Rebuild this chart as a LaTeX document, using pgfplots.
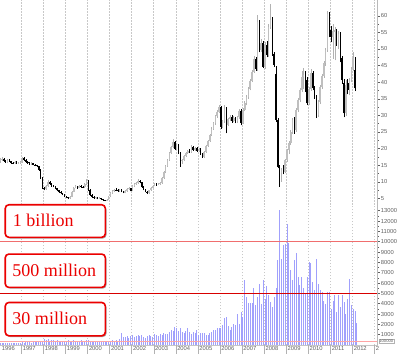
\documentclass[border=0pt]{standalone}
\usepackage{pgfplots}
\pgfplotsset{compat=1.18}
\usepackage{pgfplotstable}
\usepackage{fontspec}
\setmainfont{Liberation Serif}
\setsansfont{Liberation Sans}
\usetikzlibrary{shadows}
\definecolor{volblue}{RGB}{160,160,252}
\definecolor{gridgray}{RGB}{200,200,200}
\definecolor{labgray}{RGB}{95,95,95}
\definecolor{boxred}{RGB}{235,0,0}
\definecolor{lineten}{RGB}{240,110,110}
\definecolor{linefive}{RGB}{215,0,0}
\definecolor{linebase}{RGB}{255,165,165}

\pgfplotstableread{
m o h l c
0 16.2 17.3 15.8 16.8
1 16.8 17.5 16.3 17.0
2 17.0 17.2 16.0 16.4
3 16.4 16.7 15.6 16.0
4 16.0 16.9 15.8 16.6
5 16.6 16.8 15.9 16.2
6 16.2 16.4 15.4 15.8
7 15.8 16.1 15.3 15.6
8 15.6 16.3 15.4 16.0
9 16.0 16.2 15.3 15.6
10 15.6 16.1 15.4 15.8
11 15.8 16.3 15.5 15.9
12 15.9 17.6 15.7 17.2
13 17.2 17.4 16.3 16.6
14 16.6 16.8 15.6 15.9
15 15.9 16.2 15.3 15.6
16 15.6 15.9 15.0 15.3
17 15.3 15.9 15.1 15.6
18 15.6 15.8 14.9 15.2
19 15.2 15.5 14.7 15.0
20 15.0 15.2 14.3 14.6
21 14.6 14.8 13.3 13.6
22 13.6 13.8 10.8 11.2
23 11.2 11.4 7.8 8.2
24 8.2 8.5 7.4 7.8
25 7.8 8.9 7.6 8.6
26 8.6 10.6 8.4 10.0
27 10.0 10.3 9.1 9.4
28 9.4 9.6 8.5 8.8
29 8.8 9.1 8.3 8.6
30 8.6 8.8 7.7 8.0
31 8.0 8.2 7.1 7.4
32 7.4 7.6 6.6 6.9
33 6.9 7.1 6.2 6.5
34 6.5 6.7 5.9 6.2
35 6.2 6.3 5.3 5.6
36 5.6 5.8 5.0 5.3
37 5.3 5.5 4.8 5.0
38 5.0 5.6 4.9 5.4
39 5.4 7.3 5.3 7.0
40 7.0 8.5 6.8 8.2
41 8.2 8.9 8.0 8.6
42 8.6 8.8 7.9 8.2
43 8.2 9.1 8.0 8.8
44 8.8 9.0 8.2 8.5
45 8.5 8.8 8.1 8.4
46 8.4 9.5 8.2 9.2
47 9.2 10.9 9.0 10.3
48 10.3 10.5 7.3 7.6
49 7.6 7.8 5.8 6.0
50 6.0 6.2 5.2 5.4
51 5.4 5.6 4.9 5.1
52 5.1 5.5 4.9 5.3
53 5.3 5.4 4.7 4.9
54 4.9 5.3 4.7 5.1
55 5.1 5.2 4.6 4.8
56 4.8 4.9 4.3 4.5
57 4.5 4.6 4.1 4.3
58 4.3 4.8 4.2 4.6
59 4.6 5.8 4.5 5.6
60 5.6 6.9 5.4 6.6
61 6.6 7.4 6.4 7.1
62 7.1 7.9 6.9 7.6
63 7.6 8.1 7.2 7.5
64 7.5 7.7 6.9 7.2
65 7.2 7.8 7.0 7.5
66 7.5 7.7 6.8 7.1
67 7.1 7.3 6.5 6.7
68 6.7 7.4 6.5 7.2
69 7.2 8.0 7.0 7.8
70 7.8 8.3 7.5 8.0
71 8.0 8.2 7.1 7.3
72 7.3 8.9 7.1 8.6
73 8.6 9.6 8.4 9.3
74 9.3 9.9 9.0 9.6
75 9.6 10.8 9.4 10.3
76 10.3 10.6 9.5 9.8
77 9.8 10.0 8.2 8.4
78 8.4 8.6 7.4 7.6
79 7.6 7.8 6.8 7.0
80 7.0 7.2 6.3 6.6
81 6.6 7.6 6.4 7.4
82 7.4 8.4 7.2 8.2
83 8.2 9.1 8.0 8.8
84 8.8 9.7 8.6 9.4
85 9.4 9.6 8.8 9.1
86 9.1 9.6 8.9 9.3
87 9.3 9.9 9.0 9.6
88 9.6 11.3 9.4 11.0
89 11.0 13.1 10.8 12.8
90 12.8 14.9 12.6 14.6
91 14.6 16.9 14.4 16.6
92 16.6 18.9 16.3 18.6
93 18.6 20.8 18.3 20.4
94 20.4 22.8 20.1 22.0
95 22.0 22.4 19.5 20.0
96 20.0 21.5 19.6 21.0
97 21.0 21.3 18.3 18.6
98 18.6 18.9 14.5 16.2
99 16.2 17.0 15.5 16.6
100 16.6 18.1 16.3 17.8
101 17.8 18.9 17.5 18.6
102 18.6 19.7 18.3 19.4
103 19.4 19.8 18.6 19.0
104 19.0 21.0 18.8 20.4
105 20.4 20.8 19.3 19.6
106 19.6 20.6 19.3 20.2
107 20.2 20.5 19.0 19.4
108 19.4 20.3 19.0 19.8
109 19.8 20.1 18.1 18.4
110 18.4 18.7 17.2 17.6
111 17.6 19.3 17.3 19.0
112 19.0 21.1 18.7 20.8
113 20.8 22.7 20.5 22.4
114 22.4 24.5 22.0 24.2
115 24.2 26.4 23.9 26.0
116 26.0 28.0 25.6 27.6
117 27.6 30.2 27.2 29.8
118 29.8 31.5 29.3 31.0
119 31.0 33.0 30.6 32.4
120 32.4 32.8 26.0 26.6
121 26.6 28.7 26.2 28.2
122 28.2 33.2 27.8 32.0
123 32.0 32.6 24.6 27.2
124 27.2 29.3 26.8 28.8
125 28.8 30.2 28.3 29.6
126 29.6 30.0 27.8 28.4
127 28.4 29.8 27.9 29.2
128 29.2 29.6 27.6 28.2
129 28.2 29.9 27.8 29.4
130 29.4 32.0 29.0 31.4
131 31.4 31.8 27.0 27.8
132 27.8 32.1 27.4 31.6
133 31.6 34.2 31.2 33.6
134 33.6 36.0 33.0 35.4
135 35.4 38.6 35.0 38.0
136 38.0 41.0 37.5 40.4
137 40.4 43.8 40.0 43.2
138 43.2 47.8 42.8 47.0
139 47.0 47.5 43.4 44.0
140 44.0 60.2 43.5 58.2
141 58.2 58.8 49.0 49.7
142 49.7 53.0 49.0 51.7
143 51.7 52.4 44.2 44.6
144 44.6 52.0 44.0 51.2
145 51.2 52.5 47.5 48.2
146 48.2 57.5 47.6 56.7
147 56.7 63.7 56.0 58.7
148 58.7 59.5 48.0 48.7
149 48.4 49.0 44.5 45.2
150 42.6 45.0 28.0 28.6
151 28.6 29.2 14.0 14.5
152 14.5 15.2 8.5 12.5
153 12.5 14.2 10.0 13.5
154 13.5 15.0 12.2 12.8
155 12.8 17.0 12.5 16.5
156 16.5 20.0 16.0 19.5
157 19.5 22.2 18.5 21.6
158 21.6 25.6 21.0 25.0
159 25.0 29.2 24.5 28.6
160 28.6 29.5 24.5 25.6
161 25.6 32.2 25.0 31.6
162 31.6 35.2 31.0 34.6
163 34.6 38.2 34.0 37.6
164 37.6 43.5 37.0 41.6
165 41.6 44.2 38.0 42.1
166 42.1 43.5 37.0 40.6
167 40.6 41.5 33.0 33.6
168 33.6 38.6 33.0 38.0
169 38.0 44.0 37.4 42.7
170 42.7 43.5 37.5 38.1
171 38.1 39.0 35.0 35.6
172 35.6 36.2 29.2 30.1
173 30.1 34.6 29.6 34.0
174 34.0 39.2 33.4 38.6
175 38.6 42.6 38.0 42.0
176 42.0 46.3 41.4 45.7
177 45.7 50.3 45.0 49.7
178 49.7 61.5 49.2 60.6
179 60.6 61.2 53.5 54.7
180 55.7 57.0 52.0 53.7
181 53.7 57.5 47.0 55.5
182 55.2 56.5 46.6 55.8
183 55.0 56.0 51.0 52.7
184 52.7 55.5 50.0 54.4
185 54.2 55.0 46.0 47.2
186 47.2 48.0 39.5 40.6
187 39.7 41.0 29.4 30.6
188 30.6 40.6 29.8 39.2
189 39.7 41.0 36.3 37.6
190 37.6 41.2 36.0 40.6
191 40.6 44.6 40.0 44.0
192 44.0 49.2 43.4 47.2
193 43.7 47.5 37.3 38.1
}\pricedata

\pgfplotstableread{
m v
0 180
1 150
2 200
3 170
4 220
5 160
6 190
7 150
8 210
9 180
10 160
11 200
12 260
13 220
14 300
15 250
16 280
17 240
18 320
19 260
20 300
21 350
22 420
23 380
24 560
25 450
26 600
27 400
28 480
29 520
30 350
31 450
32 380
33 420
34 360
35 400
36 380
37 450
38 350
39 420
40 500
41 380
42 360
43 400
44 450
45 380
46 420
47 500
48 450
49 350
50 300
51 380
52 280
53 320
54 260
55 300
56 350
57 280
58 320
59 400
60 350
61 450
62 380
63 500
64 420
65 600
66 1130
67 750
68 800
69 900
70 700
71 850
72 950
73 800
74 900
75 1000
76 850
77 950
78 800
79 700
80 900
81 1000
82 850
83 800
84 1100
85 950
86 900
87 1100
88 1000
89 1200
90 1050
91 1100
92 1300
93 1500
94 1400
95 1700
96 1600
97 1400
98 1650
99 1300
100 1200
101 1400
102 1600
103 1250
104 1100
105 1300
106 1200
107 1450
108 1000
109 1200
110 1150
111 1200
112 1000
113 950
114 1200
115 1300
116 1450
117 1500
118 1600
119 1600
120 1600
121 1900
122 2600
123 2700
124 1800
125 1500
126 1700
127 2000
128 1900
129 3000
130 2000
131 3200
132 2700
133 6300
134 4600
135 4100
136 4100
137 4100
138 5500
139 3900
140 4600
141 5900
142 4000
143 6300
144 4500
145 5700
146 4800
147 4200
148 3700
149 4600
150 5500
151 8200
152 13100
153 8300
154 9700
155 9800
156 11700
157 9900
158 7300
159 6300
160 8200
161 8900
162 6600
163 5800
164 6600
165 5500
166 5000
167 6600
168 8000
169 7900
170 6100
171 5300
172 8300
173 5900
174 5300
175 5100
176 4300
177 4000
178 5100
179 5100
180 3500
181 4300
182 4800
183 3200
184 4800
185 3700
186 4800
187 4200
188 3000
189 4500
190 6400
191 3900
192 3500
193 3300
194 2100
}\voldata

\pgfplotstableread{
x y
-0.08 10000
205.3 10000
}\tenline
\pgfplotstableread{
x y
-0.08 5000
205.3 5000
}\fiveline
\pgfplotstableread{
x y
-0.08 340
205.3 340
}\baseline

\pgfplotsset{
  common/.style={
    scale only axis, width=377.7bp, anchor=south west,
    xmin=-0.08, xmax=205.3,
    axis line style={draw=none},
    xtick={11.5,23.5,...,203.5},
    xmajorgrids, major x grid style={gridgray, line width=0.5bp, dash pattern=on 1.5bp off 1.5bp},
    x tick style={draw=none},
    ytick pos=right, yticklabel pos=right,
    tick align=outside, major tick length=2bp, minor tick length=1.2bp,
    y tick style={labgray, line width=0.4bp},
    minor y tick num=1,
    tick label style={font=\sffamily\fontsize{5.8bp}{6bp}\selectfont, text=labgray},
    yticklabel style={anchor=west, inner sep=0.5bp, xshift=0.5bp},
    /pgf/number format/assume math mode=true,
    /pgf/number format/1000 sep={},
    scaled y ticks=false,
  },
  candle/.style 2 args={draw=none, mark=none,
    error bars/y dir=plus, error bars/y explicit, error bars/error mark=none,
    error bars/error bar style={draw=#1, line width=#2}},
}

\tikzset{vbox/.style={draw=boxred, line width=1.6bp, rounded corners=3.5bp, fill=white,
  anchor=north west, inner sep=0pt, minimum width=100bp,
  drop shadow={shadow xshift=1.2bp, shadow yshift=-1.2bp, fill=black, opacity=0.35}},
  vtext/.style={anchor=base west, inner sep=0pt, text=boxred, font=\fontsize{18bp}{20bp}\selectfont}}

\begin{document}
\begin{tikzpicture}
\path[use as bounding box] (0bp,0bp) rectangle (400bp,354bp);

% price panel
\begin{axis}[common, at={(0bp,149bp)}, height=205bp,
  ymin=3.0, ymax=64.76, ytick={5,10,...,60}, xticklabels={}]
  \addplot[candle={gray!60}{0.5bp}, x filter/.expression={\thisrow{c}<\thisrow{o} ? nan : x}]
    table[x=m, y=l, y error plus expr=\thisrow{h}-\thisrow{l}] {\pricedata};
  \addplot[candle={gray!50}{1.6bp}, x filter/.expression={\thisrow{c}<\thisrow{o} ? nan : x}]
    table[x=m, y=o, y error plus expr=\thisrow{c}-\thisrow{o}] {\pricedata};
  \addplot[candle={black}{0.5bp}, x filter/.expression={\thisrow{c}<\thisrow{o} ? x : nan}]
    table[x=m, y=l, y error plus expr=\thisrow{h}-\thisrow{l}] {\pricedata};
  \addplot[candle={black}{1.6bp}, x filter/.expression={\thisrow{c}<\thisrow{o} ? x : nan}]
    table[x=m, y=c, y error plus expr=\thisrow{o}-\thisrow{c}] {\pricedata};
\end{axis}

% volume panel
\begin{axis}[common, at={(0bp,9bp)}, height=140bp,
  ymin=0, ymax=13550, ytick={1000,2000,...,13000},
  xticklabels={1997,1998,1999,2000,2001,2002,2003,2004,2005,2006,2007,2008,2009,2010,2011,2012,2},
  xticklabel style={anchor=north west, inner sep=0.5bp, xshift=0.8bp, yshift=1.2bp}]
  \addplot[ycomb, mark=none, draw=volblue, line width=0.9bp] table[x=m, y=v] {\voldata};
  \addplot[draw=lineten, line width=1bp, mark=none] table[x=x, y=y] {\tenline};
  \addplot[draw=linefive, line width=1.1bp, mark=none] table[x=x, y=y] {\fiveline};
  \addplot[draw=linebase, line width=1.6bp, mark=none] table[x=x, y=y] {\baseline};
\end{axis}

\begin{scope}[x=1bp,y=1bp]
\draw[gray!45, line width=0.5bp] (0,9) -- (377.7,9);
\draw[gray!55, line width=0.5bp] (377.7,9) -- (377.7,354);
\foreach \k in {1,...,17} \draw[gray!60, line width=0.4bp] ({(12*\k-0.42)*1.83903},0) -- ++(0,9);
\node[anchor=north west, inner sep=0.5bp, font=\sffamily\fontsize{5.8bp}{6bp}\selectfont, text=labgray] at (1.2,8.2) {1996};
\node[draw=gray!60, fill=white, inner sep=0.6bp, anchor=west, font=\sffamily\fontsize{4.2bp}{4.6bp}\selectfont, text=labgray] at (378.5,13) {100000};

\node[vbox, minimum height=32.5bp] at (4.5,150) {};
\node[vtext] at (12.8,127.8) {1 billion};
\node[vbox, minimum height=33.3bp] at (4.5,100.7) {};
\node[vtext] at (12.3,78.0) {500 million};
\node[vbox, minimum height=33.3bp] at (4.5,52.3) {};
\node[vtext] at (12.3,29.7) {30 million};
\end{scope}
\end{tikzpicture}
\end{document}
